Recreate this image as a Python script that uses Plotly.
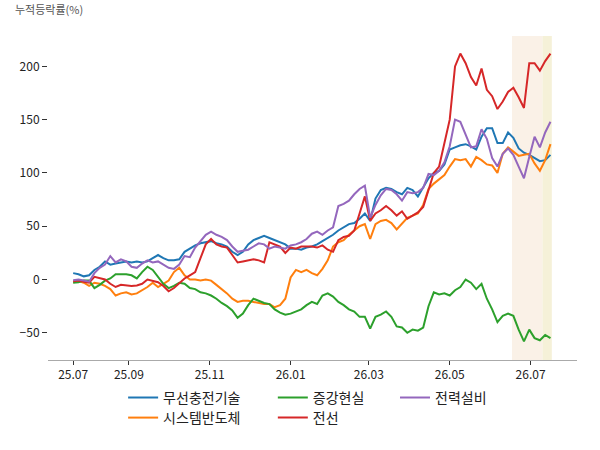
import pandas as pd
import plotly.graph_objects as go

dates = pd.date_range("2025-07-21", periods=91, freq="4D")

wireless = [6, 5, 3, 4, 9, 12, 17, 14, 15, 16, 17, 16, 17, 16, 17, 20, 23, 20, 18, 18,
            19, 26, 29, 32, 34, 35, 36, 34, 33, 31, 26, 23, 26, 33, 37, 39, 41, 39, 37, 35,
            33, 29, 29, 28, 30, 31, 33, 36, 39, 42, 46, 49, 52, 53, 57, 62, 55, 76, 84, 86,
            85, 82, 80, 86, 84, 78, 87, 95, 100, 102, 108, 122, 124, 126, 127, 125, 122, 134, 142, 142,
            128, 128, 138, 133, 123, 119, 117, 114, 111, 112, 117]

semi = [-2.5, -1.5, -3, -6, -3, -4, -6, -9, -15, -13, -12, -14, -13, -10, -7, -3, -7, -4, -1, 7,
        11, 4, 0, 0, -1, 0, -1, -5, -9, -13, -18, -21, -20, -20, -21, -22, -23, -23, -26, -24,
        -18, 2, 9, 7, 9, 6, 4, 10, 18, 31, 35, 37, 42, 46, 50, 52, 38, 52, 55, 56,
        53, 47, 52, 58, 60, 62, 70, 85, 90, 94, 98, 106, 113, 112, 113, 106, 115, 112, 108, 107,
        100, 118, 124, 120, 116, 117, 118, 109, 102, 112, 127]

ar = [-3, -2.5, -1, -1, -8, -5, -1, 1, 5, 5, 5, 4, 1, 7, 12, 9, 2, -4, -8, -6,
      -3, -4, -8, -9, -12, -13, -15, -18, -22, -25, -29, -36, -32, -24, -18, -20, -22, -23, -28, -31,
      -33, -32, -30, -28, -24, -21, -23, -15, -13, -16, -21, -24, -28, -30, -35, -35, -46, -35, -33, -30,
      -35, -44, -45, -50, -47, -48, -45, -25, -12, -14, -13, -15, -10, -7, 0, -3, -9, -4, -18, -28,
      -40, -34, -32, -34, -47, -58, -47, -55, -57, -52, -55]

cable = [-1.5, -1, -2, -3, 2.5, 1, 0, -4, -7, -5, -5.5, -6, -5.5, -4, 0, -1.5, -2.5, -6, -11, -8,
         -3, 1, 4, 7, 20, 33, 38, 33, 31, 30, 23, 16, 17, 18, 19, 18, 16, 35, 33, 31,
         25, 30, 29, 31, 31, 31, 30, 32, 28, 26, 37, 40, 41, 46, 62, 78, 55, 62, 65, 69,
         65, 60, 64, 57, 60, 63, 68, 85, 100, 106, 128, 150, 200, 212, 203, 190, 182, 198, 178, 172,
         160, 167, 176, 180, 171, 161, 203, 203, 196, 205, 212]

power = [-0.6, 0, -1, -2, 6, 11, 14, 22, 16, 19, 17, 12, 11, 15, 18, 16, 17, 14, 11, 10,
         14, 22, 21, 30, 36, 42, 45, 42, 40, 37, 31, 26, 27, 28, 31, 34, 33, 29, 31, 30,
         29, 32, 33, 35, 38, 43, 45, 42, 46, 49, 69, 71, 74, 80, 85, 88, 58, 70, 79, 85,
         84, 80, 74, 82, 81, 82, 86, 99, 98, 102, 110, 125, 150, 148, 136, 124, 125, 141, 132, 114,
         106, 118, 123, 117, 106, 95, 115, 134, 124, 138, 148]

names = ["무선충전기술", "시스템반도체", "증강현실", "전선", "전력설비"]
values = [wireless, semi, ar, cable, power]
colors = ["#1f77b4", "#ff7f0e", "#2ca02c", "#d62728", "#9467bd"]

tick_vals = ["2025-07-21", "2025-09-01", "2025-11-01", "2026-01-01", "2026-03-01", "2026-05-01", "2026-07-01"]
tick_text = ["25.07", "25.09", "25.11", "26.01", "26.03", "26.05", "26.07"]

shade1 = ("2026-06-17", "2026-07-10")
shade2 = ("2026-07-10", "2026-07-17")

FONT = "Noto Sans CJK KR"

# legend slots: (column x in paper, row y in paper) -- matplotlib-style 3 columns, column-major
legend_ids = ["legend", "legend2", "legend3", "legend4", "legend5"]
legend_pos = [(0.142, -0.117), (0.142, -0.179), (0.425, -0.117), (0.425, -0.179), (0.656, -0.117)]

fig = go.Figure()
for name, vals, color, lid in zip(names, values, colors, legend_ids):
    fig.add_trace(go.Scatter(
        x=dates, y=vals, mode="lines", name=name,
        line=dict(color=color, width=2),
        legend=lid,
    ))

fig.add_vrect(x0=shade1[0], x1=shade1[1], fillcolor="#FAF1E7", line_width=0, layer="below")
fig.add_vrect(x0=shade2[0], x1=shade2[1], fillcolor="#F5F1D8", line_width=0, layer="below")

legend_common = dict(xanchor="left", yanchor="middle", bgcolor="rgba(0,0,0,0)",
                     font=dict(size=14, color="#222", family=FONT))
legend_layout = {}
for lid, (lx, ly) in zip(legend_ids, legend_pos):
    legend_layout[lid] = dict(x=lx, y=ly, **legend_common)

fig.update_layout(
    width=600, height=450,
    margin=dict(l=48, r=23, t=36, b=90, autoexpand=False),
    plot_bgcolor="white", paper_bgcolor="white",
    font=dict(family=FONT, size=12, color="#222"),
    showlegend=True,
    xaxis=dict(
        type="date", range=["2025-07-02", "2026-08-05"],
        tickvals=tick_vals, ticktext=tick_text,
        showgrid=False, zeroline=False,
        showline=True, linecolor="#aaaaaa", linewidth=1,
        ticks="outside", ticklen=4, tickcolor="#333", tickwidth=1,
        tickfont=dict(size=12, color="#222"),
    ),
    yaxis=dict(
        range=[-75.5, 228.5],
        tickvals=[-50, 0, 50, 100, 150, 200],
        showgrid=False, zeroline=False, showline=False,
        ticks="outside", ticklen=5, tickcolor="#333", tickwidth=1,
        tickfont=dict(size=12, color="#222"),
    ),
    annotations=[dict(
        text="누적등락률(%)", xref="paper", yref="paper",
        x=-0.066, y=1.083, xanchor="left", yanchor="middle", showarrow=False,
        font=dict(size=11, color="#555", family=FONT),
    )],
    **legend_layout,
)

fig.write_html("out.html")
